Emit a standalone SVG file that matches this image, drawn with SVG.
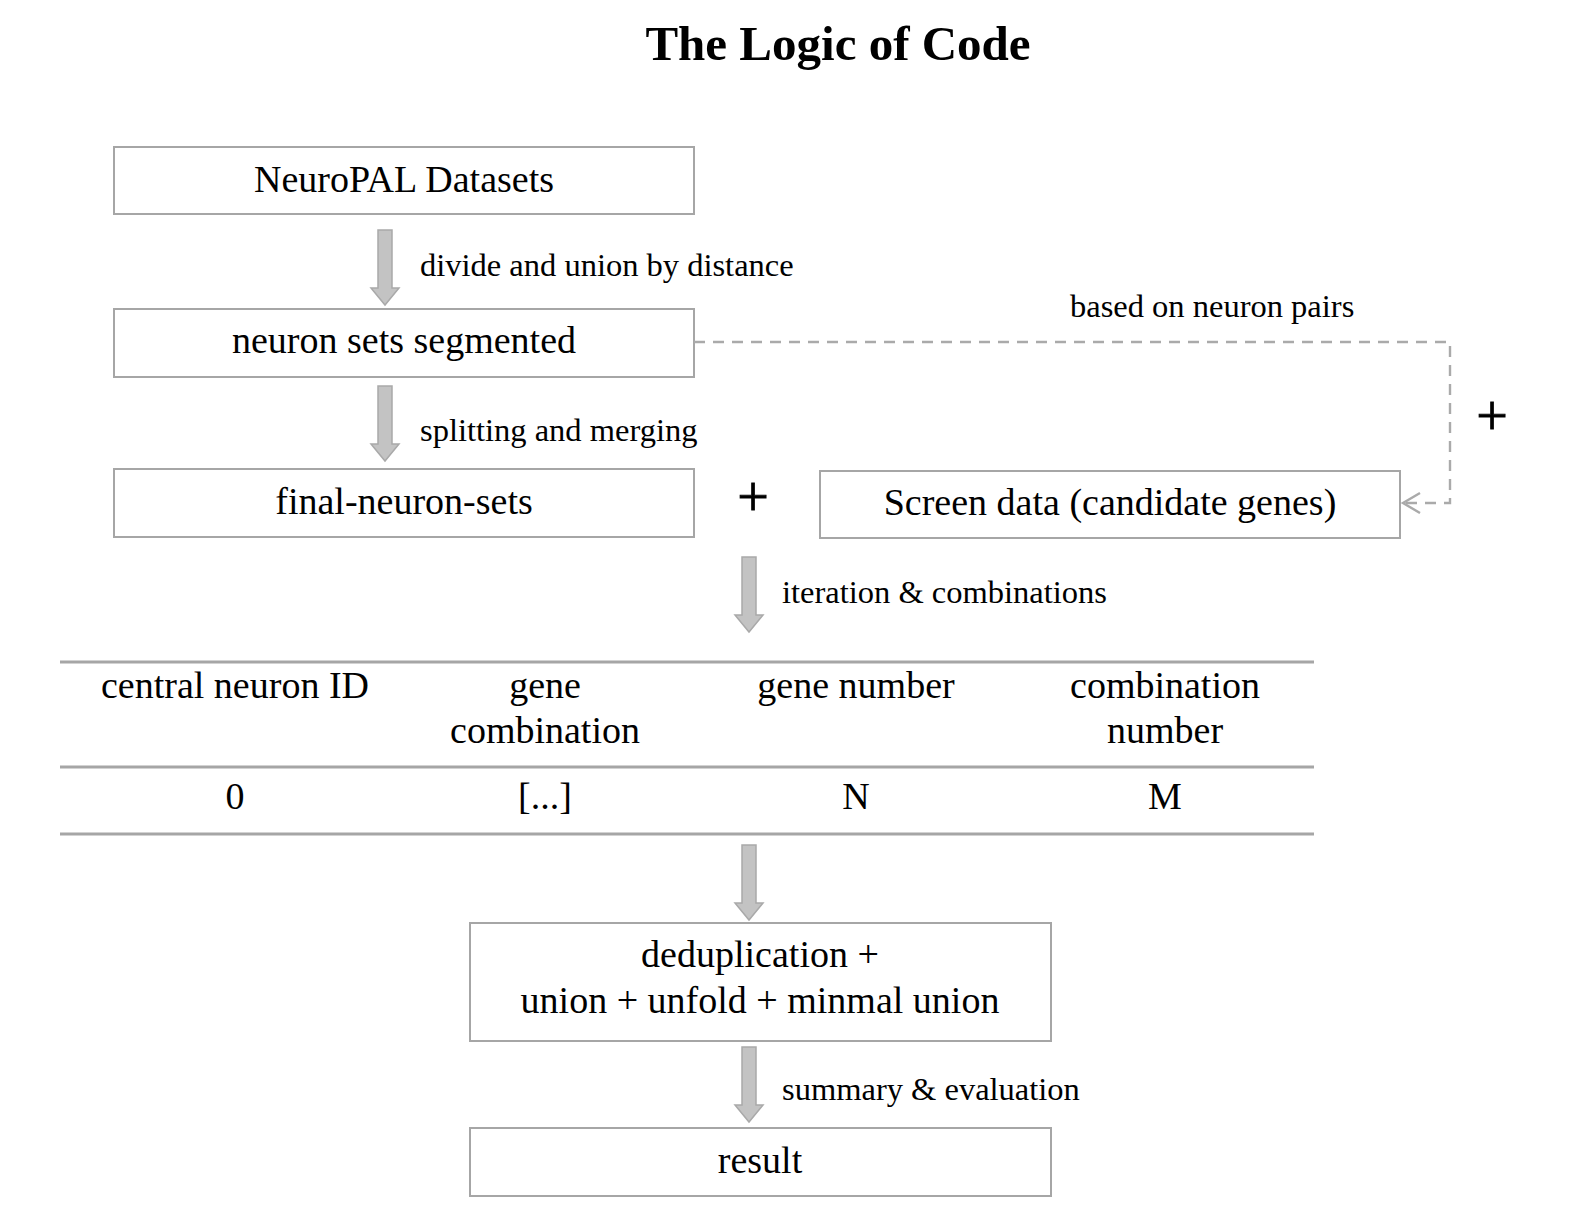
<svg xmlns="http://www.w3.org/2000/svg" width="1583" height="1219" viewBox="0 0 1583 1219">
<style>
text{font-family:"Liberation Serif","Times New Roman",serif;fill:#000}
.title{font-size:49px;font-weight:bold;text-anchor:middle}
.box{fill:#fff;stroke:#a6a6a6;stroke-width:2}
.bt{font-size:38px;text-anchor:middle}
.lbl{font-size:32.5px}
.blk{fill:#c3c3c3;stroke:#a9a9a9;stroke-width:1.5}
.dash{fill:none;stroke:#aaaaaa;stroke-width:2.4;stroke-dasharray:11 8}
.tl{stroke:#a6a6a6;stroke-width:3}
.plus{font-size:56px;text-anchor:middle;stroke:#000;stroke-width:0.8}
</style>
<defs>
<path id="blkarrow" d="M-7,0 H7 V58 H14 L0,75 L-14,58 H-7 Z"/>
<marker id="chev" markerWidth="22" markerHeight="24" refX="19" refY="11" orient="auto" markerUnits="userSpaceOnUse">
<path d="M2,1 L19,11 L2,21" fill="none" stroke="#aaaaaa" stroke-width="2.4"/>
</marker>
</defs>
<rect width="1583" height="1219" fill="#fff"/>
<text class="title" x="838" y="60">The Logic of Code</text>

<g id="n1"><rect class="box" x="114" y="147" width="580" height="67"/><text class="bt" x="404" y="192">NeuroPAL Datasets</text></g>
<g id="n2"><rect class="box" x="114" y="309" width="580" height="68"/><text class="bt" x="404" y="353">neuron sets segmented</text></g>
<g id="n3"><rect class="box" x="114" y="469" width="580" height="68"/><text class="bt" x="404" y="514">final-neuron-sets</text></g>
<g id="n4"><rect class="box" x="820" y="471" width="580" height="67"/><text class="bt" x="1110" y="515">Screen data (candidate genes)</text></g>
<g id="table">
<line class="tl" x1="60" y1="662" x2="1314" y2="662"/>
<line class="tl" x1="60" y1="767" x2="1314" y2="767"/>
<line class="tl" x1="60" y1="834" x2="1314" y2="834"/>
<text class="bt" x="235" y="698">central neuron ID</text>
<text class="bt" x="545" y="698">gene</text>
<text class="bt" x="545" y="743">combination</text>
<text class="bt" x="856" y="698">gene number</text>
<text class="bt" x="1165" y="698">combination</text>
<text class="bt" x="1165" y="743">number</text>
<text class="bt" x="235" y="809">0</text>
<text class="bt" x="545" y="809">[...]</text>
<text class="bt" x="856" y="809">N</text>
<text class="bt" x="1165" y="809">M</text>
</g>
<g id="n5"><rect class="box" x="470" y="923" width="581" height="118"/><text class="bt" x="760" y="967">deduplication +</text><text class="bt" x="760" y="1013">union + unfold + minmal union</text></g>
<g id="n6"><rect class="box" x="470" y="1128" width="581" height="68"/><text class="bt" x="760" y="1173">result</text></g>

<g id="connectors">
<use href="#blkarrow" class="blk" x="385" y="230"/>
<use href="#blkarrow" class="blk" x="385" y="386"/>
<use href="#blkarrow" class="blk" x="749" y="557"/>
<use href="#blkarrow" class="blk" x="749" y="845"/>
<use href="#blkarrow" class="blk" x="749" y="1047"/>
<path class="dash" d="M694,342 H1450 V503 H1403" marker-end="url(#chev)"/>
<text class="lbl" x="420" y="276">divide and union by distance</text>
<text class="lbl" x="420" y="441">splitting and merging</text>
<text class="lbl" x="1070" y="317">based on neuron pairs</text>
<text class="lbl" x="782" y="603">iteration &amp; combinations</text>
<text class="lbl" x="782" y="1100">summary &amp; evaluation</text>
<text class="plus" x="753" y="516">+</text>
<text class="plus" x="1492" y="435">+</text>
</g>
</svg>
